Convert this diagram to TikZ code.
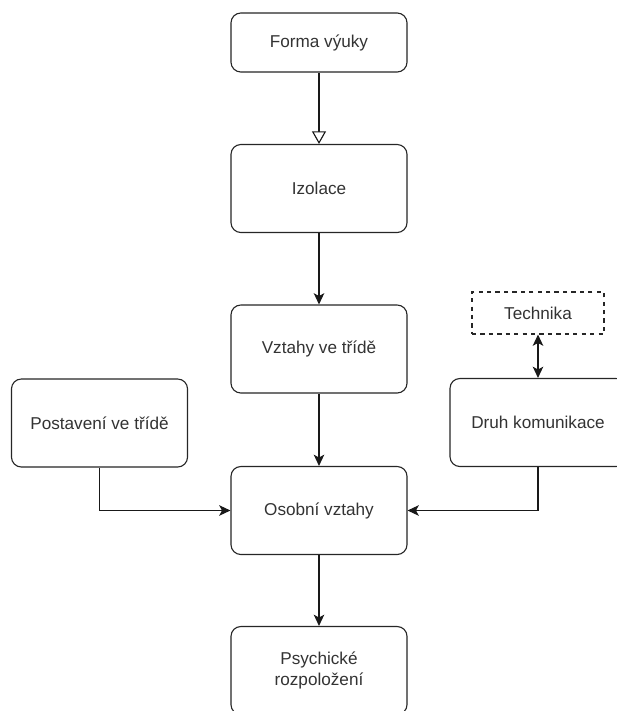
\documentclass[tikz,border=0pt]{standalone}
\usepackage{fontspec}
\setmainfont{Liberation Sans}
\usetikzlibrary{arrows.meta}

\begin{document}
\begin{tikzpicture}[
    card/.style={
        rectangle, rounded corners=7pt, draw=black!85, line width=0.8pt,
        fill=white, minimum width=4.4cm, minimum height=2.2cm,
        inner sep=2pt, align=center,
        font=\fontsize{12.2}{15}\selectfont, text=black!80
    },
    lowCard/.style={card, minimum height=1.475cm},
    dashedCard/.style={card, rounded corners=0pt, dashed,
        minimum width=3.3cm, minimum height=1.05cm},
    flow/.style={draw=black!90, line width=0.8pt,
        -{Stealth[length=8pt, width=7.5pt, inset=2pt]}},
    openFlow/.style={draw=black!90, line width=0.8pt,
        -{Triangle[open, length=9pt, width=10pt, fill=white]}},
    bothFlow/.style={draw=black!90, line width=0.8pt,
        {Stealth[length=8pt, width=7.5pt, inset=2pt]}-{Stealth[length=8pt, width=7.5pt, inset=2pt]}}
]
    \useasboundingbox (0,0) rectangle (15.4,-17.775);

    % --- main column ---
    \node[lowCard] (forma) at (7.975, -1.0625) {Forma výuky};
    \node[card] (izolace) at (7.975, -4.7125) {Izolace};
    \node[card] (vztahy) at (7.975, -8.725) {Vztahy ve třídě};
    \node[card] (osobni) at (7.975, -12.7625) {Osobní vztahy};
    \node[card] (psychicke) at (7.975, -16.7625) {Psychické\\rozpoložení};

    % --- side boxes ---
    \node[card] (postaveni) at (2.4875, -10.575) {Postavení ve třídě};
    \node[card] (druh) at (13.45, -10.5625) {Druh komunikace};
    \node[dashedCard] (technika) at (13.45, -7.825) {Technika};

    % --- connectors ---
    \draw[openFlow] (forma) -- (izolace);
    \draw[flow] (izolace) -- (vztahy);
    \draw[flow] (vztahy) -- (osobni);
    \draw[flow] (osobni) -- (psychicke);
    \draw[flow] (postaveni.south) |- (osobni.west);
    \draw[flow] (druh.south) |- (osobni.east);
    \draw[bothFlow] (technika) -- (druh);
\end{tikzpicture}
\end{document}
